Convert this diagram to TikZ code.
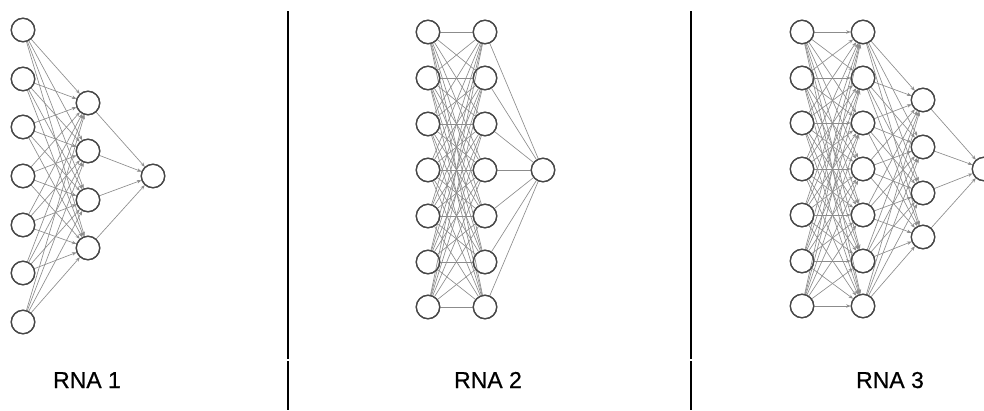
\documentclass[tikz,border=0pt]{standalone}
\usepackage{fontspec}
\setmainfont{Liberation Sans}
\newfontfamily\lblfont[FakeBold=0.6]{Liberation Sans}
\usetikzlibrary{arrows.meta}
\begin{document}
\begin{tikzpicture}[x=1pt,y=-1pt,
  neuron/.style={circle,draw=black!72,line width=1.2pt,minimum size=23.5pt,inner sep=0pt,fill=white},
  link/.style={draw=black!45,line width=0.65pt},
  alink/.style={link,-{Stealth[length=4.5pt,width=3.5pt]}},
  divider/.style={draw=black,line width=2pt},
  lbl/.style={anchor=base,font=\lblfont\fontsize{23}{26}\selectfont}]
\useasboundingbox (0,0) rectangle (984,410);
% ---------- RNA 1 ----------
\foreach \i/\y in {1/30,2/79,3/127,4/176,5/225,6/273,7/322}
  \node[neuron] (a\i) at (23,\y) {};
\foreach \j/\y in {1/103,2/151,3/200,4/248}
  \node[neuron] (ah\j) at (88,\y) {};
\node[neuron] (ao) at (153,176) {};
\foreach \i in {1,...,7}
  \foreach \j in {1,...,4}
    \draw[alink] (a\i) -- (ah\j);
\foreach \j in {1,...,4}
  \draw[alink] (ah\j) -- (ao);
% ---------- RNA 2 ----------
\foreach \i/\y in {1/32,2/78,3/124,4/170,5/216,6/262,7/307}{
  \node[neuron] (b\i) at (428,\y) {};
  \node[neuron] (bh\i) at (485,\y) {};
}
\node[neuron] (bo) at (543,170) {};
\foreach \i in {1,...,7}
  \foreach \j in {1,...,7}
    \draw[link] (b\i) -- (bh\j);
\foreach \j in {1,...,7}
  \draw[link] (bh\j) -- (bo);
% ---------- RNA 3 ----------
\foreach \i/\y in {1/32,2/78,3/123,4/169,5/215,6/261,7/306}{
  \node[neuron] (c\i) at (802,\y) {};
  \node[neuron] (ch\i) at (863,\y) {};
}
\foreach \j/\y in {1/100,2/147,3/193,4/237}
  \node[neuron] (ck\j) at (923,\y) {};
\node[neuron] (co) at (984,169) {};
\foreach \i in {1,...,7}
  \foreach \j in {1,...,7}
    \draw[alink] (c\i) -- (ch\j);
\foreach \i in {1,...,7}
  \foreach \j in {1,...,4}
    \draw[alink] (ch\i) -- (ck\j);
\foreach \j in {1,...,4}
  \draw[alink] (ck\j) -- (co);
% redraw neuron outlines on top of the links
\foreach \n in {a1,a2,a3,a4,a5,a6,a7,ah1,ah2,ah3,ah4,ao,b1,b2,b3,b4,b5,b6,b7,bh1,bh2,bh3,bh4,bh5,bh6,bh7,bo,c1,c2,c3,c4,c5,c6,c7,ch1,ch2,ch3,ch4,ch5,ch6,ch7,ck1,ck2,ck3,ck4,co}
  \draw[draw=black!72,line width=1.2pt] (\n.center) circle (11.75pt);
% ---------- dividers ----------
\coordinate (d1t) at (288,11);
\coordinate (d1m) at (288,359);
\coordinate (d1n) at (288,361);
\coordinate (d1b) at (288,410);
\coordinate (d2t) at (691,11);
\coordinate (d2m) at (691,359);
\coordinate (d2n) at (691,361);
\coordinate (d2b) at (691,410);
\draw[divider] (d1t) -- (d1m) (d1n) -- (d1b);
\draw[divider] (d2t) -- (d2m) (d2n) -- (d2b);
% ---------- labels ----------
\node[lbl] (l1) at (87,388) {RNA 1};
\node[lbl] (l2) at (488,388) {RNA 2};
\node[lbl] (l3) at (890,388) {RNA 3};
\end{tikzpicture}
\end{document}
